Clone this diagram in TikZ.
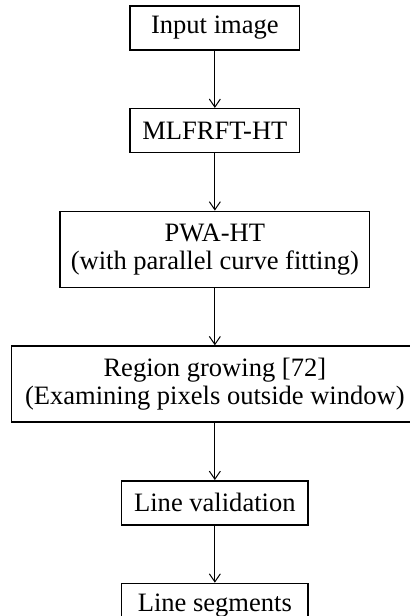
\documentclass[tikz,border=0pt]{standalone}
\usepackage{fontspec}
\setmainfont{Liberation Serif}
\usetikzlibrary{arrows.meta,positioning}
\tikzset{
  box-style/.style = {
    rectangle, draw, line width=0.75pt,
    align=center, inner sep=1pt,
    minimum width=#1
  },
  small-box-style/.style = {
    box-style=#1,
    minimum height=22pt
  },
  big-box-style/.style = {
    box-style=#1,
    minimum height=38pt
  },
  every edge/.style = {draw, line width=0.5pt, -{Straight Barb[length=4pt,width=5.5pt]}}
}
\newlength\stepDistance
\setlength\stepDistance{28.5pt}

\begin{document}
\begin{tikzpicture}[font=\fontsize{13.25pt}{14pt}\selectfont, node distance=\stepDistance]
  \useasboundingbox (0,0) rectangle (204.5pt,-307.5pt);
  \node[small-box-style=84.5pt] (input) at (107.25pt,-14pt) {Input image};
  \node[small-box-style=84.5pt, below=of input] (mlfrft) {MLFRFT-HT};
  \node[big-box-style=154.5pt, below=of mlfrft] (pwa) {PWA-HT\\(with parallel curve fitting)};
  \node[big-box-style=203pt, below=of pwa] (region) {Region growing [72]\\(Examining pixels outside window)};
  \node[small-box-style=93pt, below=of region] (valid) {Line validation};
  \node[small-box-style=93pt, below=of valid] (segments) {Line segments};

  \path (input) edge (mlfrft)
        (mlfrft) edge (pwa)
        (pwa) edge (region)
        (region) edge (valid)
        (valid) edge (segments);
\end{tikzpicture}
\end{document}
